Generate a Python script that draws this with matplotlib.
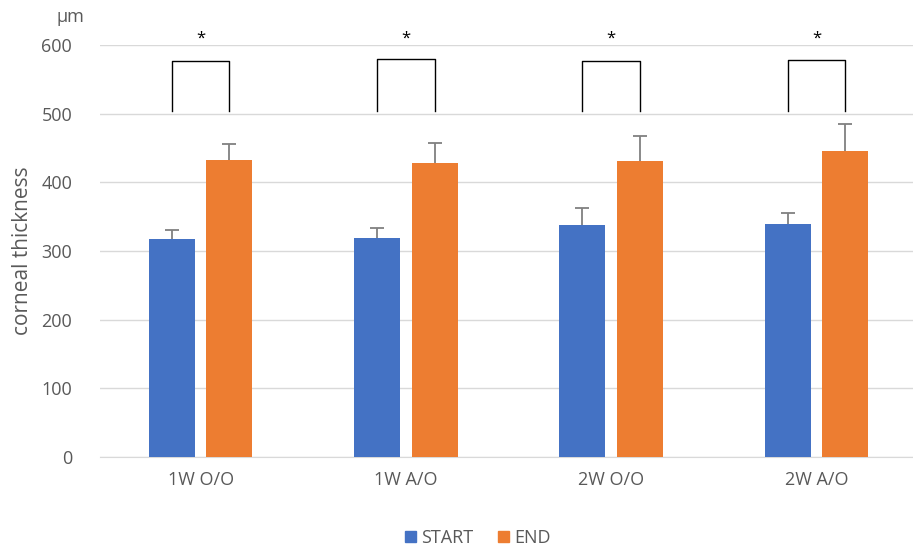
import numpy as np
import matplotlib.pyplot as plt
from matplotlib.patches import Patch

groups = ['1W O/O', '1W A/O', '2W O/O', '2W A/O']
start_mean = [318, 319, 338, 339]
start_err = [12, 14, 24, 16]
end_mean = [432, 428, 431, 446]
end_err = [24, 30, 36, 39]
bracket_top = [577, 580, 577, 578]

blue = '#4472c4'
orange = '#ed7d31'
grey = '#595959'

plt.rcParams['font.family'] = ['Open Sans', 'DejaVu Sans']

fig = plt.figure(figsize=(9.13, 5.48), dpi=100)
ax = fig.add_axes([100 / 913, 1 - 457 / 548, 813 / 913, 412 / 548])

x = np.arange(len(groups))
w = 0.224
off = 0.14

ax.bar(x - off, start_mean, w, color=blue, zorder=3)
ax.bar(x + off, end_mean, w, color=orange, zorder=3)

# upward-only error bars
for xs, m, e in [(x - off, start_mean, start_err), (x + off, end_mean, end_err)]:
    _, caps, _ = ax.errorbar(xs, m, yerr=[np.zeros(4), e], fmt='none', ecolor='#808080',
                             capsize=5, elinewidth=1.3, capthick=1.3, zorder=4)
    caps[0].set_visible(False)

for i in range(len(groups)):
    xl, xr = x[i] - off, x[i] + off
    ax.plot([xl, xl, xr, xr], [504, bracket_top[i], bracket_top[i], 504],
            color='black', lw=1, zorder=4, clip_on=False)
    ax.text(x[i], 597, '*', ha='center', va='bottom', fontsize=12, clip_on=False)

ax.set_ylim(0, 600)
ax.set_xlim(-0.49, 3.47)
ax.set_yticks(range(0, 601, 100))
ax.yaxis.grid(True, color='#d9d9d9', lw=1, zorder=0)
ax.set_axisbelow(True)
ax.set_xticks(x)
ax.set_xticklabels(groups)
ax.tick_params(axis='both', length=0, labelsize=13, labelcolor=grey)
ax.tick_params(axis='x', pad=10)
ax.tick_params(axis='y', pad=20)
for s in ['top', 'right', 'left']:
    ax.spines[s].set_visible(False)
ax.spines['bottom'].set_color('#d9d9d9')

ax.set_ylabel('corneal thickness', fontsize=15, color=grey, labelpad=6)
fig.text(70 / 913, 1 - 17 / 548, 'µm', ha='center', va='center', fontsize=13, color=grey)

handles = [Patch(color=blue, label='START'), Patch(color=orange, label='END')]
fig.legend(handles=handles, loc='center', bbox_to_anchor=(478 / 913, 1 - 538 / 548),
           ncol=2, frameon=False, fontsize=13, handlelength=0.6, handleheight=0.6,
           handletextpad=0.3, columnspacing=1.4, labelcolor=grey)

fig.savefig('out.png', dpi=100)
